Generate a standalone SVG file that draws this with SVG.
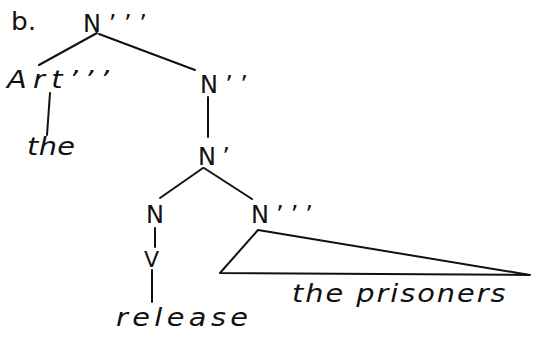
<svg xmlns="http://www.w3.org/2000/svg" width="537" height="337" viewBox="0 0 537 337">
<style>
text{font-family:"DejaVu Sans","Liberation Sans",sans-serif;font-size:24px;fill:#111}
.w{font-style:italic}
.c line,.c polygon{stroke:#111;stroke-width:2;fill:none;stroke-linecap:round;stroke-linejoin:round}
</style>
<rect width="537" height="337" fill="#fff"/>
<g id="label-b"><text transform="translate(11,30) scale(1.1,1)">b.</text></g>
<g id="n-top"><text x="83" y="32" textLength="64" lengthAdjust="spacing">N’’’</text></g>
<g id="art"><text class="w" transform="translate(7,88) scale(1.2,1)" textLength="85" lengthAdjust="spacing">Art’’’</text></g>
<g id="n2"><text x="200" y="93" textLength="48" lengthAdjust="spacing">N’’</text></g>
<g id="the1"><text class="w" transform="translate(27,155) scale(1.2,1)" textLength="40" lengthAdjust="spacing">the</text></g>
<g id="n1"><text x="198" y="165" textLength="32" lengthAdjust="spacing">N’</text></g>
<g id="n0"><text x="146" y="223">N</text></g>
<g id="n3"><text x="251" y="223" textLength="62" lengthAdjust="spacing">N’’’</text></g>
<g id="v"><text x="144" y="267" style="font-size:22px">V</text></g>
<g id="release"><text class="w" transform="translate(116,326) scale(1.2,1)" textLength="110" lengthAdjust="spacing">release</text></g>
<g id="prisoners"><text class="w" transform="translate(292,302) scale(1.2,1)" textLength="178" lengthAdjust="spacing">the prisoners</text></g>
<g class="c" id="connectors">
<line x1="97" y1="33" x2="39" y2="65"/>
<line x1="99" y1="34" x2="195" y2="70"/>
<line x1="50" y1="93" x2="47" y2="135"/>
<line x1="208" y1="97" x2="208" y2="137"/>
<line x1="203" y1="168" x2="160" y2="198"/>
<line x1="204" y1="168" x2="252" y2="199"/>
<line x1="155" y1="228" x2="155" y2="247"/>
<line x1="152" y1="270" x2="152" y2="302"/>
<polygon points="258,230 220,273 530,275"/>
</g>
</svg>
